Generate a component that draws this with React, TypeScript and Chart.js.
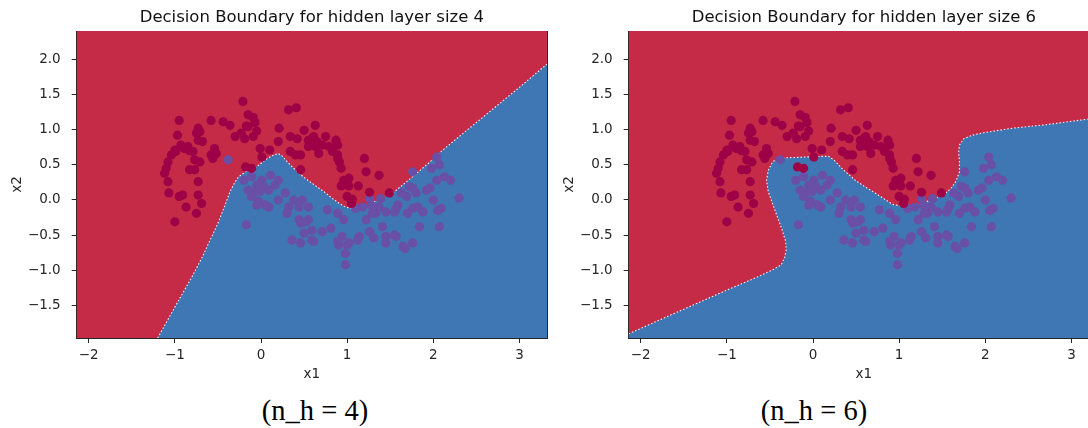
import React, { useEffect, useRef } from "react";
import { Chart, registerables } from "chart.js";

Chart.register(...registerables);

// ---------- data ----------
const X_RANGE: [number, number] = [-2.14, 3.32];
const Y_RANGE: [number, number] = [-1.96, 2.4];
const X_TICKS = [-2, -1, 0, 1, 2, 3];
const Y_TICKS = [-1.5, -1.0, -0.5, 0.0, 0.5, 1.0, 1.5, 2.0];

const TITLES = [
  "Decision Boundary for hidden layer size 4",
  "Decision Boundary for hidden layer size 6",
];
const CAPTIONS = ["(n_h = 4)", "(n_h = 6)"];

// class 0 (upper moon)
const CLASS0_POINTS: [number, number][] = [
  [-1.12, 0.38], [-1.1, 0.45], [-1.08, 0.54], [-1.04, 0.64], [-1.0, 0.71], [-0.97, 0.92],
  [-0.95, 1.13], [-0.93, 0.78], [-0.89, 0.73], [-0.85, 0.76], [-0.83, 0.7], [-0.79, 0.69],
  [-0.75, 0.95], [-0.73, 1.02], [-0.71, 0.97], [-0.73, 0.85], [-0.68, 0.83], [-0.77, 0.57],
  [-0.71, 0.54], [-0.83, 0.43], [-0.77, 0.43], [-1.08, 0.26], [-0.73, 0.26], [-1.07, 0.1],
  [-0.95, 0.05], [-0.91, 0.07], [-0.73, 0.07], [-0.69, -0.05], [-0.87, -0.1], [-0.75, -0.19],
  [-1.0, -0.31], [-0.58, 1.13], [-0.44, 1.11], [-0.36, 1.06], [-0.54, 0.73], [-0.58, 0.64],
  [-0.52, 0.66], [-0.56, 0.59], [-0.21, 1.4], [-0.15, 1.21], [-0.09, 1.17], [-0.07, 1.1],
  [-0.17, 1.05], [-0.23, 0.95], [-0.3, 0.9], [-0.19, 0.87], [-0.09, 0.9], [-0.05, 0.98],
  [-0.01, 0.73], [0.1, 0.71], [0.2, 0.83], [0.21, 1.02], [0.32, 1.28], [0.41, 1.31],
  [0.34, 0.9], [0.42, 0.87], [0.5, 0.99], [0.34, 0.69], [0.46, 0.64], [0.46, 0.43],
  [0.63, 1.06], [0.61, 0.9], [0.55, 0.85], [0.75, 0.9], [0.87, 0.85], [0.89, 0.78],
  [0.71, 0.78], [0.79, 0.76], [0.63, 0.76], [0.83, 0.69], [0.89, 0.64], [0.91, 0.54],
  [1.2, 0.59], [0.93, 0.45], [1.22, 0.4], [1.37, 0.35], [0.96, 0.28], [1.02, 0.31],
  [0.93, 0.2], [1.02, 0.2], [1.13, 0.2], [1.26, 0.11], [1.49, 0.1], [1.0, 0.05],
  [1.06, 0.01], [1.05, -0.05], [-0.11, 0.45], [-0.18, 0.47], [0.01, 0.61], [0.67, 0.66],
  [0.55, 0.76], [0.65, 0.83], [-0.15, 1.04], [0.4, 0.64], [0.89, 0.59], [-0.99, 0.69],
];

// class 1 (lower moon)
const CLASS1_POINTS: [number, number][] = [
  [-0.38, 0.57], [-0.11, 0.33], [0.01, 0.28], [-0.15, 0.14], [0.11, 0.35], [0.2, 0.28],
  [-0.01, 0.12], [0.09, 0.14], [-0.11, 0.05], [-0.03, -0.02], [0.05, -0.07], [0.03, 0.2],
  [0.2, 0.0], [0.32, -0.1], [0.44, -0.1], [0.55, -0.1], [0.3, -0.19], [0.44, -0.28],
  [0.55, -0.28], [-0.17, -0.35], [0.5, -0.47], [0.59, -0.57], [0.36, -0.57], [0.46, -0.61],
  [0.71, -0.45], [0.77, -0.14], [0.89, -0.19], [0.96, -0.28], [0.94, -0.52], [0.9, -0.64],
  [0.98, -0.76], [0.98, -0.92], [1.02, -0.61], [1.14, -0.52], [1.22, -0.28], [1.29, -0.19],
  [1.41, -0.38], [1.45, -0.52], [1.57, -0.52], [1.45, -0.17], [1.57, -0.12], [1.28, -0.07],
  [1.69, 0.05], [1.8, 0.1], [1.72, 0.19], [1.92, 0.14], [2.04, 0.28], [2.13, 0.33],
  [1.76, 0.4], [1.98, 0.45], [2.07, 0.5], [2.04, 0.61], [1.76, -0.12], [1.88, -0.17],
  [1.84, -0.38], [2.07, -0.38], [1.65, -0.66], [1.76, -0.61], [2.2, 0.28], [2.3, 0.03],
  [0.28, 0.1], [0.38, 0.0], [0.46, -0.33], [0.48, 0.0], [0.81, -0.4], [0.89, -0.59],
  [1.0, -0.64], [1.12, -0.57], [1.31, -0.54], [1.26, -0.45], [1.67, -0.69], [1.33, -0.19],
  [1.55, -0.17], [1.7, -0.19], [1.59, -0.07], [1.82, -0.1], [2.09, -0.12], [2.0, 0.0],
  [1.63, 0.1], [1.76, 0.17], [1.96, 0.17], [1.39, 0.02], [1.26, 0.02], [1.37, -0.1],
  [-0.05, 0.21], [0.16, 0.21], [-0.09, 0.1], [0.09, -0.1], [-0.05, -0.07], [0.61, -0.59],
  [0.52, -0.31], [0.59, -0.43], [1.55, -0.5], [1.45, -0.61], [2.05, -0.15], [1.1, -0.12],
  [1.18, -0.1], [-0.2, 0.28],
];

// decision boundary, hidden layer size 4 (class 1 region lies below / right)
const BOUNDARY_H4: [number, number][] = [
  [-1.2, -1.96], [-1.0, -1.52], [-0.81, -1.11], [-0.69, -0.83], [-0.5, -0.33], [-0.42, -0.08],
  [-0.36, 0.12], [-0.3, 0.26], [-0.26, 0.33], [-0.18, 0.4], [-0.11, 0.43], [-0.02, 0.5],
  [0.05, 0.57], [0.13, 0.63], [0.2, 0.66], [0.25, 0.62], [0.3, 0.55], [0.37, 0.46],
  [0.44, 0.38], [0.52, 0.3], [0.59, 0.24], [0.67, 0.17], [0.75, 0.1], [0.83, 0.02],
  [0.91, -0.05], [0.98, -0.1], [1.06, -0.12], [1.14, -0.1], [1.22, -0.07], [1.3, -0.03],
  [1.37, 0.0], [1.45, 0.05], [1.53, 0.1], [1.65, 0.22], [1.76, 0.33], [1.96, 0.54],
  [2.11, 0.71], [2.23, 0.83], [2.6, 1.2], [3.0, 1.6], [3.32, 1.93],
];

// decision boundary, hidden layer size 6
const BOUNDARY_H6: [number, number][] = [
  [-2.14, -1.9], [-1.5, -1.55], [-1.0, -1.28], [-0.64, -1.09], [-0.45, -0.98], [-0.37, -0.92],
  [-0.33, -0.82], [-0.31, -0.7], [-0.32, -0.58], [-0.36, -0.42], [-0.42, -0.22], [-0.47, -0.05],
  [-0.52, 0.12], [-0.54, 0.28], [-0.52, 0.42], [-0.47, 0.54], [-0.41, 0.59], [-0.3, 0.6],
  [-0.1, 0.61], [0.1, 0.62], [0.18, 0.62], [0.25, 0.56], [0.35, 0.43], [0.49, 0.28],
  [0.6, 0.19], [0.72, 0.1], [0.82, 0.02], [0.92, -0.06], [1.03, -0.09], [1.12, -0.09],
  [1.19, -0.07], [1.3, -0.03], [1.42, 0.02], [1.52, 0.08], [1.6, 0.16], [1.66, 0.27],
  [1.7, 0.4], [1.7, 0.55], [1.69, 0.68], [1.7, 0.78], [1.75, 0.87], [1.85, 0.92],
  [2.0, 0.96], [2.32, 1.02], [2.71, 1.07], [3.32, 1.17],
];

// ---------- styling ----------
const RED_REGION = "#c52b47";
const BLUE_REGION = "#3f76b4";
const CLASS0_COLOR = "#9e0246";
const CLASS1_COLOR = "#6a4fa6";
const AXIS_COLOR = "#262626";
const SANS = "'DejaVu Sans', sans-serif";

const CANVAS_W = 560;
const CANVAS_H = 395;
const CHART_LEFT = 76.7;
const CHART_RIGHT = 547;
const CHART_BOTTOM = 338;

const minus = (s: string) => s.replace("-", "\u2212");

function DecisionPlot({ boundary, title }: { boundary: [number, number][]; title: string }) {
  const ref = useRef<HTMLCanvasElement | null>(null);

  useEffect(() => {
    if (!ref.current) return;
    const toXY = (arr: [number, number][]) => arr.map(([x, y]) => ({ x, y }));
    const [x0, x1] = X_RANGE;
    const [y0, y1] = Y_RANGE;
    const redRegion = toXY([[x0, y0], [x1, y0], [x1, y1], [x0, y1]]);
    const blueRegion = toXY([...boundary, [x1, y0], [x0, y0]]);

    const tickFont = { family: SANS, size: 13.5 };
    const frameAxis = (position: string, fit: (a: any) => void, min: number, max: number) => ({
      type: "linear",
      position,
      min,
      max,
      z: 1,
      ticks: { display: false },
      grid: { display: false },
      border: { display: true, color: AXIS_COLOR, width: 1 },
      afterFit: fit,
    });

    const chart = new Chart(ref.current, {
      type: "scatter",
      data: {
        datasets: [
          {
            type: "scatter",
            label: "class 0",
            data: toXY(CLASS0_POINTS),
            pointRadius: 4.6,
            pointHoverRadius: 4.6,
            backgroundColor: CLASS0_COLOR,
            borderWidth: 0,
            order: 0,
          },
          {
            type: "scatter",
            label: "class 1",
            data: toXY(CLASS1_POINTS),
            pointRadius: 4.6,
            pointHoverRadius: 4.6,
            backgroundColor: CLASS1_COLOR,
            borderWidth: 0,
            order: 0,
          },
          {
            type: "line",
            label: "boundary",
            data: toXY(boundary),
            showLine: true,
            pointRadius: 0,
            borderColor: "rgba(255,255,255,0.95)",
            borderWidth: 1.1,
            borderDash: [1.5, 2],
            fill: false,
            tension: 0,
            order: 1,
          },
          {
            type: "line",
            label: "class 1 region",
            data: blueRegion,
            showLine: true,
            pointRadius: 0,
            borderWidth: 0,
            borderColor: "transparent",
            backgroundColor: BLUE_REGION,
            fill: "shape",
            tension: 0,
            order: 2,
          },
          {
            type: "line",
            label: "class 0 region",
            data: redRegion,
            showLine: true,
            pointRadius: 0,
            borderWidth: 0,
            borderColor: "transparent",
            backgroundColor: RED_REGION,
            fill: "shape",
            tension: 0,
            order: 3,
          },
        ] as any,
      },
      options: {
        responsive: false,
        animation: false,
        devicePixelRatio: 1,
        layout: { padding: { left: 0, right: CANVAS_W - CHART_RIGHT, top: 0, bottom: 0 } },
        plugins: {
          legend: { display: false },
          tooltip: { enabled: false },
          title: {
            display: true,
            text: title,
            fullSize: false,
            color: "#111",
            font: { family: SANS, size: 16.5, weight: "normal" },
            padding: { top: 8, bottom: 3.2 },
          },
        },
        scales: {
          x: {
            type: "linear",
            position: "bottom",
            min: x0,
            max: x1,
            z: 1,
            afterBuildTicks: (a: any) => {
              a.ticks = X_TICKS.map((v) => ({ value: v }));
            },
            afterFit: (a: any) => {
              a.height = CANVAS_H - CHART_BOTTOM;
            },
            ticks: {
              autoSkip: false,
              maxRotation: 0,
              padding: 4,
              color: AXIS_COLOR,
              font: tickFont,
              callback: (v: any) => minus(String(Math.round(Number(v)))),
            },
            grid: {
              display: true,
              drawOnChartArea: false,
              drawTicks: true,
              tickLength: 5,
              color: AXIS_COLOR,
            },
            border: { display: true, color: AXIS_COLOR, width: 1 },
            title: {
              display: true,
              text: "x1",
              color: AXIS_COLOR,
              font: { family: SANS, size: 13.5 },
              padding: { top: 0, bottom: 12 },
            },
          },
          y: {
            type: "linear",
            position: "left",
            min: y0,
            max: y1,
            z: 1,
            afterBuildTicks: (a: any) => {
              a.ticks = Y_TICKS.map((v) => ({ value: v }));
            },
            afterFit: (a: any) => {
              a.width = CHART_LEFT;
            },
            ticks: {
              autoSkip: false,
              padding: 11,
              color: AXIS_COLOR,
              font: tickFont,
              callback: (v: any) => minus(Number(v).toFixed(1)),
            },
            grid: {
              display: true,
              drawOnChartArea: false,
              drawTicks: true,
              tickLength: 5,
              color: AXIS_COLOR,
            },
            border: { display: true, color: AXIS_COLOR, width: 1 },
            title: {
              display: true,
              text: "x2",
              color: AXIS_COLOR,
              font: { family: SANS, size: 13.5 },
              padding: { top: 9, bottom: 0 },
            },
          },
          xTop: frameAxis("top", (a: any) => { a.height = 0; }, x0, x1),
          yRight: frameAxis("right", (a: any) => { a.width = 0; }, y0, y1),
        } as any,
      },
    });
    return () => chart.destroy();
  }, [boundary, title]);

  return <canvas ref={ref} width={CANVAS_W} height={CANVAS_H} style={{ display: "block" }} />;
}

export default function App() {
  const captionStyle = (center: number): React.CSSProperties => ({
    position: "absolute",
    left: center - 100,
    width: 200,
    top: 395,
    height: 32,
    lineHeight: "32px",
    textAlign: "center",
    fontFamily: "'Liberation Serif', 'Times New Roman', serif",
    fontSize: 28.5,
    color: "#000",
    whiteSpace: "nowrap",
  });
  return (
    <div
      style={{
        position: "absolute",
        left: 0,
        top: 0,
        width: 1088,
        height: 428,
        overflow: "hidden",
        background: "#fff",
      }}
    >
      <div style={{ position: "absolute", left: 0, top: 0 }}>
        <DecisionPlot boundary={BOUNDARY_H4} title={TITLES[0]} />
      </div>
      <div style={{ position: "absolute", left: 552, top: 0 }}>
        <DecisionPlot boundary={BOUNDARY_H6} title={TITLES[1]} />
      </div>
      <div style={captionStyle(315)}>{CAPTIONS[0]}</div>
      <div style={captionStyle(814)}>{CAPTIONS[1]}</div>
    </div>
  );
}
